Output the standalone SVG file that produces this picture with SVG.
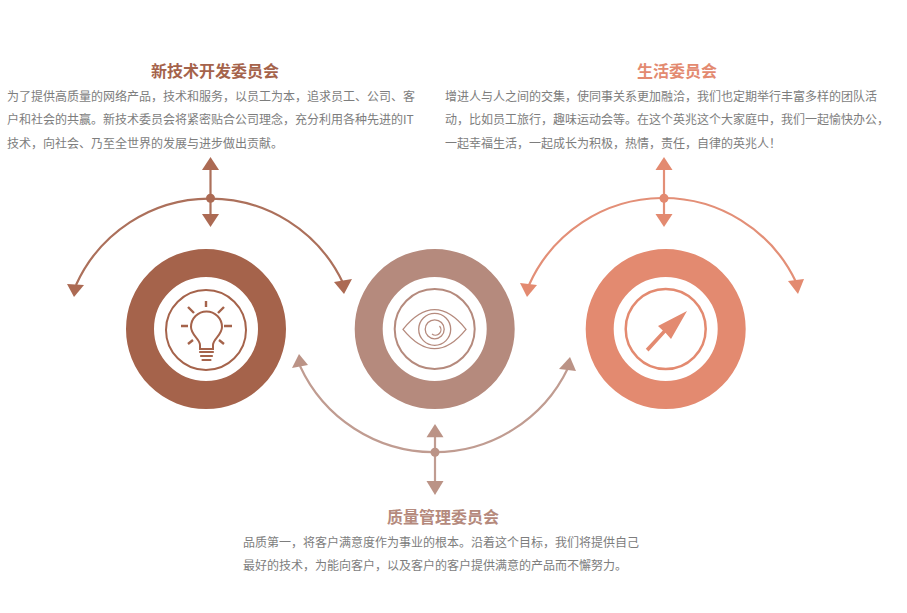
<svg xmlns="http://www.w3.org/2000/svg" width="907" height="613" viewBox="0 0 907 613">
<style>
text{font-family:"Microsoft YaHei","Noto Sans CJK SC","Noto Sans",sans-serif}
.t{font-size:16px;font-weight:700;text-anchor:middle}
.b{font-size:12px;fill:#7d7d7d}
.ring{fill:none;stroke-width:28}
.thin{fill:none;stroke-width:2}
.ln{fill:none;stroke-width:2.200;stroke-linecap:butt}
.c1{stroke:#ac705b}.f1{fill:#ac6a53}
.c2{stroke:#c09c91}.f2{fill:#bb9386}
.c3{stroke:#e38f77}.f3{fill:#e38a70}
</style>
<rect width="907" height="613" fill="#fff"/>
<g id="connectors">
<g id="conn-tech">
<path class="ln c1" d="M76 285A147 147 0 0 1 343 283"/>
<path class="ln c1" d="M210.500 168V216" />
<circle class="f1" cx="210.500" cy="198.300" r="4.500"/>
<polygon class="f1" points="210.500,157 219,170 202,170"/>
<polygon class="f1" points="210.500,227 202,214 219,214"/>
<polygon class="f1" points="74,297 67,284 84,285"/>
<polygon class="f1" points="344,294 334,282 352,279"/>
</g>
<g id="conn-life">
<path class="ln c3" d="M529 285A147 147 0 0 1 796 282"/>
<path class="ln c3" d="M664 168V216"/>
<circle class="f3" cx="664" cy="198.300" r="4.500"/>
<polygon class="f3" points="664,157 672.500,170 655.500,170"/>
<polygon class="f3" points="664,227 655.500,214 672.500,214"/>
<polygon class="f3" points="527,297 520,283 537,285"/>
<polygon class="f3" points="798,294 788,281 804,279"/>
</g>
<g id="conn-quality">
<path class="ln c2" d="M300 366A148 148 0 0 0 568 368"/>
<path class="ln c2" d="M435 435V483"/>
<circle class="f2" cx="435" cy="452.300" r="4.500"/>
<polygon class="f2" points="435,424 443.500,437.300 426.500,437.300"/>
<polygon class="f2" points="435,495 426.500,481 443.500,481"/>
<polygon class="f2" points="299,354 292,368 308,365"/>
<polygon class="f2" points="570,357 559,369 576,371"/>
</g>
</g>
<g id="node-tech">
<text class="t" x="215" y="76.500" fill="#a5634b">新技术开发委员会</text>
<text class="b" x="7" y="101">为了提供高质量的网络产品，技术和服务，以员工为本，追求员工、公司、客</text>
<text class="b" x="7" y="124">户和社会的共赢。新技术委员会将紧密贴合公司理念，充分利用各种先进的IT</text>
<text class="b" x="7" y="148">技术，向社会、乃至全世界的发展与进步做出贡献。</text>
<circle class="ring" cx="206" cy="329" r="66" stroke="#a5634b"/>
<g fill="none" stroke="#a5634b">
<circle class="thin" cx="206" cy="330" r="40"/>
<path stroke-width="2" d="M200 349V345C200 339 191 335 191 327A15.500 15.500 0 0 1 222 327C222 335 213 339 213 345V349Z"/>
<path stroke-width="2.200" stroke-linecap="round" d="M200 352H213M201 356H212M202.500 360H210.500"/>
<path stroke-width="2.400" d="M206 301V307M188 307L194 313M224 307L218 313M181 326H188M224 326H232M188 344L193 340M224 344L219 340"/>
</g>
</g>
<g id="node-quality">
<circle class="ring" cx="434.700" cy="329" r="66" stroke="#b58a7d"/>
<g fill="none" stroke="#b58a7d">
<circle class="thin" cx="434.700" cy="329" r="40"/>
<path stroke-width="1.300" d="M403 329.300Q434.700 290 466 329.300Q434.700 368 403 329.300Z"/>
<circle stroke-width="1.300" cx="434.700" cy="329.300" r="16"/>
<circle stroke-width="1.300" cx="434.700" cy="329.300" r="9.500"/>
<path stroke-width="1.300" d="M439.500 326A5.500 5.500 0 0 1 432 334"/>
</g>
</g>
<g id="node-life">
<circle class="ring" cx="665.700" cy="329" r="66" stroke="#e38a70"/>
<circle class="thin" cx="665.700" cy="329" r="40" stroke="#e38a70" style="stroke-width:2.500"/>
<polygon fill="#e38a70" points="687,311 671,339 665.500,332.800 648.500,351.500 645.800,348.700 662.800,330.500 658,326"/>
<text class="t" x="677" y="76.500" fill="#e38a70">生活委员会</text>
<text class="b" x="445" y="101">增进人与人之间的交集，使同事关系更加融洽，我们也定期举行丰富多样的团队活</text>
<text class="b" x="445" y="124">动，比如员工旅行，趣味运动会等。在这个英兆这个大家庭中，我们一起愉快办公，</text>
<text class="b" x="445" y="148">一起幸福生活，一起成长为积极，热情，责任，自律的英兆人！</text>
</g>
<g id="label-quality">
<text class="t" x="443" y="522.500" fill="#b58a7d">质量管理委员会</text>
<text class="b" x="243" y="547">品质第一，将客户满意度作为事业的根本。沿着这个目标，我们将提供自己</text>
<text class="b" x="243" y="570">最好的技术，为能向客户，以及客户的客户提供满意的产品而不懈努力。</text>
</g>
</svg>
